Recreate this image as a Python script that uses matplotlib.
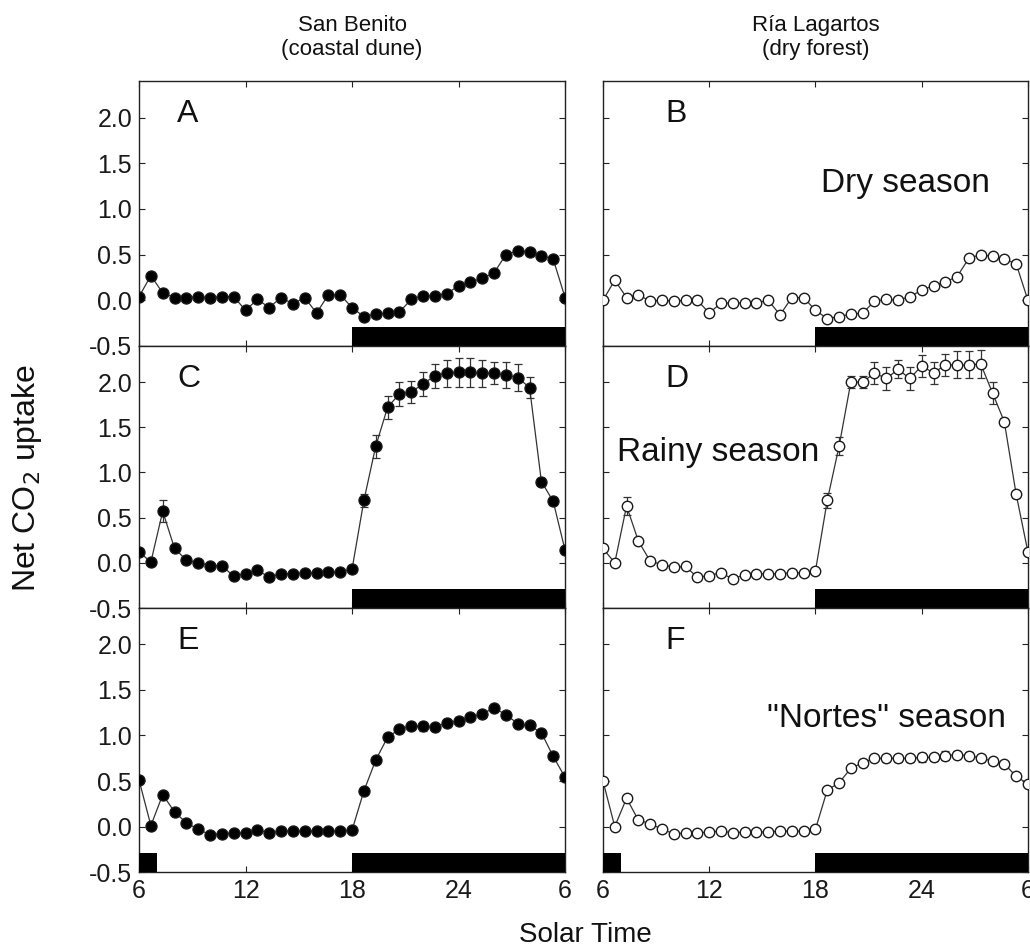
import numpy as np
import matplotlib
matplotlib.use("Agg")
import matplotlib.pyplot as plt

plt.rcParams['font.family'] = ['Liberation Sans', 'DejaVu Sans']

# Solar time: 40-min steps from 06:00 to 06:00 next day
hours = [6 + i * 2 / 3 for i in range(37)]

# Net CO2 uptake, San Benito (coastal dune), filled symbols
A_vals = [0.04, 0.27, 0.08, 0.03, 0.03, 0.04, 0.03, 0.04, 0.04, -0.11, 0.01, -0.08,
          0.03, -0.04, 0.03, -0.14, 0.06, 0.06, -0.08, -0.18, -0.15, -0.14, -0.13, 0.01,
          0.05, 0.05, 0.07, 0.16, 0.20, 0.24, 0.30, 0.50, 0.54, 0.53, 0.49, 0.45, 0.03]
C_vals = [0.12, 0.01, 0.57, 0.16, 0.03, 0.00, -0.03, -0.03, -0.15, -0.12, -0.08, -0.16,
          -0.12, -0.12, -0.11, -0.11, -0.10, -0.10, -0.07, 0.69, 1.29, 1.72, 1.87, 1.89,
          1.98, 2.07, 2.10, 2.11, 2.11, 2.10, 2.10, 2.08, 2.05, 1.94, 0.90, 0.68, 0.14]
C_err = [0.02, 0.02, 0.12, 0.02, 0.02, 0.02, 0.02, 0.02, 0.02, 0.02, 0.02, 0.02,
         0.02, 0.02, 0.02, 0.02, 0.02, 0.02, 0.02, 0.07, 0.13, 0.13, 0.13, 0.12,
         0.13, 0.13, 0.15, 0.16, 0.16, 0.15, 0.12, 0.14, 0.15, 0.12, 0.04, 0.04, 0.03]
E_vals = [0.51, 0.01, 0.35, 0.16, 0.04, -0.03, -0.09, -0.08, -0.07, -0.07, -0.04, -0.07,
          -0.05, -0.05, -0.05, -0.05, -0.05, -0.05, -0.04, 0.39, 0.73, 0.98, 1.07, 1.10,
          1.10, 1.09, 1.14, 1.16, 1.20, 1.24, 1.30, 1.23, 1.13, 1.11, 1.03, 0.77, 0.54]
E_err = [0.02, 0.02, 0.02, 0.02, 0.02, 0.02, 0.02, 0.02, 0.02, 0.02, 0.02, 0.02,
         0.02, 0.02, 0.02, 0.02, 0.02, 0.02, 0.02, 0.03, 0.03, 0.03, 0.03, 0.03,
         0.05, 0.04, 0.04, 0.04, 0.03, 0.03, 0.03, 0.03, 0.03, 0.03, 0.03, 0.03, 0.03]

# Net CO2 uptake, Ría Lagartos (dry forest), open symbols
B_vals = [0.00, 0.22, 0.03, 0.06, -0.01, 0.00, -0.01, 0.00, 0.00, -0.14, -0.03, -0.03,
          -0.03, -0.03, 0.00, -0.16, 0.03, 0.03, -0.11, -0.20, -0.18, -0.15, -0.14, -0.01,
          0.01, 0.00, 0.04, 0.11, 0.16, 0.20, 0.26, 0.46, 0.50, 0.48, 0.45, 0.40, 0.00]
D_vals = [0.16, 0.00, 0.63, 0.24, 0.02, -0.02, -0.05, -0.04, -0.16, -0.14, -0.11, -0.18,
          -0.13, -0.12, -0.12, -0.12, -0.11, -0.11, -0.09, 0.69, 1.29, 2.00, 2.00, 2.10,
          2.04, 2.14, 2.04, 2.18, 2.10, 2.19, 2.19, 2.19, 2.20, 1.88, 1.56, 0.76, 0.12]
D_err = [0.02, 0.02, 0.10, 0.02, 0.02, 0.02, 0.02, 0.02, 0.02, 0.02, 0.02, 0.02,
         0.02, 0.02, 0.02, 0.02, 0.02, 0.02, 0.02, 0.08, 0.10, 0.07, 0.07, 0.12,
         0.13, 0.10, 0.13, 0.12, 0.12, 0.12, 0.15, 0.15, 0.15, 0.12, 0.04, 0.04, 0.03]
F_vals = [0.50, 0.00, 0.31, 0.07, 0.03, -0.03, -0.08, -0.07, -0.07, -0.06, -0.05, -0.07,
          -0.06, -0.06, -0.06, -0.05, -0.05, -0.05, -0.03, 0.40, 0.48, 0.64, 0.70, 0.75,
          0.75, 0.75, 0.75, 0.76, 0.76, 0.78, 0.79, 0.78, 0.75, 0.72, 0.69, 0.55, 0.47]
F_err = [0.02, 0.02, 0.02, 0.02, 0.02, 0.02, 0.02, 0.02, 0.02, 0.02, 0.02, 0.02,
         0.02, 0.02, 0.02, 0.02, 0.02, 0.02, 0.02, 0.02, 0.02, 0.03, 0.03, 0.03,
         0.04, 0.04, 0.04, 0.05, 0.04, 0.05, 0.04, 0.04, 0.04, 0.03, 0.03, 0.02, 0.02]

# Dark periods (start hour, end hour) drawn as bars along the bottom
night_main = [(18, 30)]
night_nortes = [(6, 7), (18, 30)]

panel_letters = ["A", "B", "C", "D", "E", "F"]
site_titles = ["San Benito\n(coastal dune)", "Ría Lagartos\n(dry forest)"]
season_labels = ["Dry season", "Rainy season", "\"Nortes\" season"]
x_ticks = [6, 12, 18, 24, 30]
x_ticklabels = ["6", "12", "18", "24", "6"]
y_ticks = [-0.5, 0.0, 0.5, 1.0, 1.5, 2.0]
y_ticklabels = ["-0.5", "0.0", "0.5", "1.0", "1.5", "2.0"]

fig = plt.figure(figsize=(10.30, 9.52), dpi=100)

col_x = [0.135, 0.5854]
col_w = [0.4136, 0.4126]
row_bottoms = [0.6366, 0.3613, 0.0840]
row_tops = [0.9149, 0.6366, 0.3613]

series = [
    [(A_vals, None), (B_vals, None)],
    [(C_vals, C_err), (D_vals, D_err)],
    [(E_vals, E_err), (F_vals, F_err)],
]
nights = [night_main, night_main, night_nortes]

season_pos = [(0.514, 0.615), (0.033, 0.595), (0.385, 0.58)]

for r in range(3):
    for c in range(2):
        ax = fig.add_axes([col_x[c], row_bottoms[r], col_w[c], row_tops[r] - row_bottoms[r]])
        vals, err = series[r][c]
        filled = (c == 0)
        mfc = "black" if filled else "white"
        if err is not None:
            ax.errorbar(hours, vals, yerr=err, fmt="none", ecolor="#333333",
                        elinewidth=0.9, capsize=3, capthick=0.9, zorder=2)
        ax.plot(hours, vals, color="#333333", lw=0.9, zorder=3,
                marker="o", ms=8 if filled else 7.5, mfc=mfc,
                mec="#1a1a1a", mew=0.9 if filled else 1.0)

        ax.broken_barh([(s, e - s) for s, e in nights[r]], (-0.5, 0.21),
                       facecolors="black", zorder=4)

        ax.set_xlim(6, 30)
        ax.set_ylim(-0.5, 2.4)
        ax.set_xticks(x_ticks)
        ax.set_yticks(y_ticks)
        ax.tick_params(direction="in", length=4, width=0.8, top=True, right=True,
                       labelsize=18, pad=5, colors="#222222")
        for lab in ax.get_xticklabels() + ax.get_yticklabels():
            lab.set_color("#1a1a1a")
        if r == 2:
            ax.set_xticklabels(x_ticklabels)
        else:
            ax.set_xticklabels([])
        if c == 0:
            ax.set_yticklabels(y_ticklabels)
        else:
            ax.set_yticklabels([])
        for sp in ax.spines.values():
            sp.set_linewidth(1.0)
            sp.set_color("#222222")

        letter_x = 0.089 if c == 0 else 0.146
        ax.text(letter_x, 0.875, panel_letters[r * 2 + c], transform=ax.transAxes,
                fontsize=23, ha="left", va="center", color="#111111")
        if c == 1:
            sx, sy = season_pos[r]
            ax.text(sx, sy, season_labels[r], transform=ax.transAxes,
                    fontsize=24, ha="left", va="center", color="#111111")
        if r == 0:
            ax.set_title(site_titles[c], fontsize=16, pad=19, linespacing=1.15,
                         color="#111111")

fig.text(0.026, 0.498, "Net CO$_2$ uptake", rotation=90, fontsize=23,
         ha="center", va="center", color="#111111")
fig.text(0.568, 0.018, "Solar Time", fontsize=20, ha="center", va="center",
         color="#111111")

fig.savefig("out.png", dpi=100)
